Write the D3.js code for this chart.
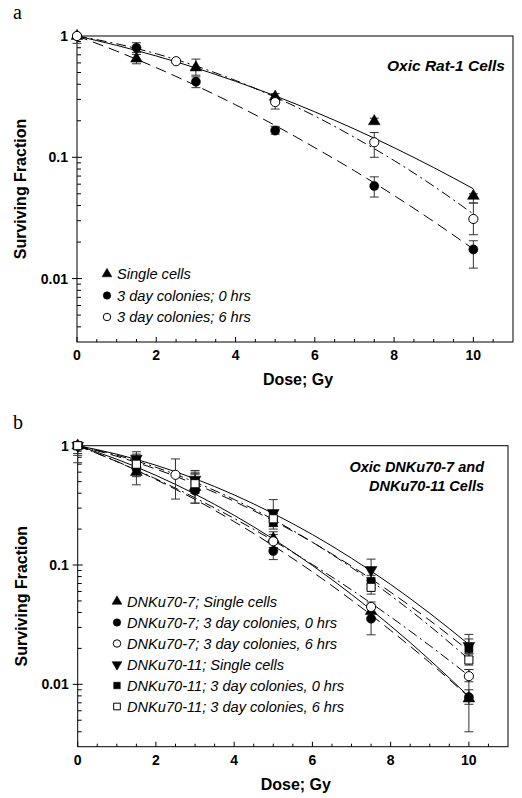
<!DOCTYPE html>
<html><head><meta charset="utf-8">
<script src="https://cdn.jsdelivr.net/npm/d3@7"></script>
<style>
body{margin:0;background:#fff;}
svg{display:block;font-family:"Liberation Sans",Arial,sans-serif;}
</style>
</head><body>
<svg id="c" width="522" height="798"></svg>
<script>
// ---------- shared ----------
const xTicksMajor = [0, 2, 4, 6, 8, 10];
const yTicksMajor = [1, 0.1, 0.01];
const yTickLabels = ["1", "0.1", "0.01"];
const fitDose = [0, 1, 2, 3, 4, 5, 6, 7, 8, 9, 10];

// ---------- panel a: Oxic Rat-1 ----------
const aSingleDose = [0, 1.5, 3, 5, 7.5, 10];
const aSingleSF   = [1, 0.65, 0.55, 0.315, 0.198, 0.048];
const aSingleLo   = [1, 0.59, 0.475, 0.29, 0.19, 0.042];
const aSingleHi   = [1, 0.705, 0.645, 0.335, 0.21, 0.05];

const aCol0Dose = [0, 1.5, 3, 5, 7.5, 10];
const aCol0SF   = [1, 0.80, 0.42, 0.166, 0.058, 0.0174];
const aCol0Lo   = [0.87, 0.73, 0.375, 0.155, 0.047, 0.0122];
const aCol0Hi   = [1, 0.88, 0.46, 0.18, 0.069, 0.0205];

const aCol6Dose = [0, 2.5, 5, 7.5, 10];
const aCol6SF   = [1, 0.62, 0.285, 0.133, 0.031];
const aCol6Lo   = [1, 0.60, 0.25, 0.10, 0.023];
const aCol6Hi   = [1, 0.64, 0.31, 0.16, 0.042];

const aSingleFit = [1, 0.837, 0.684, 0.545, 0.423, 0.321, 0.237, 0.171, 0.120, 0.0823, 0.055];
const aCol0Fit   = [1, 0.750, 0.548, 0.39, 0.271, 0.183, 0.120, 0.0774, 0.0484, 0.0295, 0.0175];
const aCol6Fit   = [1, 0.863, 0.714, 0.566, 0.430, 0.313, 0.219, 0.146, 0.094, 0.0578, 0.034];

const aLegend = ["Single cells", "3 day colonies; 0 hrs", "3 day colonies; 6 hrs"];

// ---------- panel b: Oxic DNKu70-7 and DNKu70-11 ----------
const b7SingleDose = [0, 1.5, 3, 5, 7.5, 10];
const b7SingleSF   = [1, 0.60, 0.45, 0.166, 0.041, 0.0076];
const b7SingleLo   = [0.72, 0.47, 0.33, 0.14, 0.036, 0.004];
const b7SingleHi   = [1, 0.74, 0.58, 0.19, 0.047, 0.0133];

const b7Col0Dose = [0, 1.5, 3, 5, 7.5, 10];
const b7Col0SF   = [1, 0.65, 0.42, 0.131, 0.0355, 0.0078];
const b7Col0Lo   = [0.83, 0.55, 0.33, 0.111, 0.026, 0.0068];
const b7Col0Hi   = [1, 0.78, 0.52, 0.15, 0.045, 0.009];

const b7Col6Dose = [0, 2.5, 5, 7.5, 10];
const b7Col6SF   = [1, 0.57, 0.158, 0.0445, 0.0117];
const b7Col6Lo   = [0.86, 0.357, 0.14, 0.040, 0.0105];
const b7Col6Hi   = [1, 0.775, 0.18, 0.049, 0.0133];

const b11SingleDose = [0, 1.5, 3, 5, 7.5, 10];
const b11SingleSF   = [1, 0.78, 0.52, 0.273, 0.091, 0.021];
const b11SingleLo   = [1, 0.65, 0.45, 0.21, 0.075, 0.018];
const b11SingleHi   = [1, 0.89, 0.62, 0.353, 0.112, 0.024];

const b11Col0Dose = [0, 1.5, 3, 5, 7.5, 10];
const b11Col0SF   = [1, 0.72, 0.50, 0.229, 0.073, 0.0199];
const b11Col0Lo   = [1, 0.62, 0.42, 0.20, 0.064, 0.017];
const b11Col0Hi   = [1, 0.85, 0.60, 0.27, 0.082, 0.0262];

const b11Col6Dose = [0, 1.5, 3, 5, 7.5, 10];
const b11Col6SF   = [1, 0.70, 0.48, 0.244, 0.065, 0.016];
const b11Col6Lo   = [1, 0.60, 0.40, 0.21, 0.057, 0.0145];
const b11Col6Hi   = [1, 0.80, 0.58, 0.28, 0.074, 0.018];

const b7SingleFit  = [1, 0.770, 0.564, 0.393, 0.261, 0.165, 0.0991, 0.0567, 0.0309, 0.0160, 0.0079];
const b7Col0Fit    = [1, 0.736, 0.520, 0.354, 0.231, 0.145, 0.0876, 0.0508, 0.0283, 0.0152, 0.00783];
const b7Col6Fit    = [1, 0.7375, 0.527, 0.3655, 0.2456, 0.160, 0.101, 0.0619, 0.0367, 0.0211, 0.0118];
const b11SingleFit = [1, 0.849, 0.686, 0.528, 0.387, 0.270, 0.180, 0.114, 0.0687, 0.0394, 0.0216];
const b11Col0Fit   = [1, 0.815, 0.637, 0.477, 0.342, 0.235, 0.155, 0.0978, 0.0592, 0.0343, 0.0191];
const b11Col6Fit   = [1, 0.832, 0.659, 0.495, 0.354, 0.2405, 0.1553, 0.0953, 0.0556, 0.0308, 0.0162];

const bLegend = ["DNKu70-7; Single cells", "DNKu70-7; 3 day colonies, 0 hrs", "DNKu70-7; 3 day colonies, 6 hrs",
                 "DNKu70-11; Single cells", "DNKu70-11; 3 day colonies, 0 hrs", "DNKu70-11; 3 day colonies, 6 hrs"];

// ---------- drawing ----------
const svg = d3.select("#c");
const DASH = {solid: null, dash: "11,6", dashdot: "10,4,2,4"};

function markerPath(kind, size) {
  if (kind === "tri" || kind === "triDown") return d3.symbol(d3.symbolTriangle, size)();
  if (kind === "square" || kind === "squareOpen") return d3.symbol(d3.symbolSquare, size)();
  return d3.symbol(d3.symbolCircle, size)();
}
function drawMarker(g, kind, x, y, size) {
  const open = kind === "circleOpen" || kind === "squareOpen";
  g.append("path").attr("d", markerPath(kind, size))
    .attr("transform", `translate(${x},${y})` + (kind === "triDown" ? " rotate(180)" : ""))
    .attr("fill", open ? "#fff" : "#000")
    .attr("stroke", "#000").attr("stroke-width", open ? 1 : 0.5);
}

function drawPanel(p) {
  const x = d3.scaleLinear().domain([0, 11]).range([p.left, p.right]);
  const y = d3.scaleLog().domain([0.003, 1]).range([p.bottom, p.top]);
  const g = svg.append("g");

  // frame
  g.append("rect").attr("x", p.left).attr("y", p.top)
    .attr("width", p.right - p.left).attr("height", p.bottom - p.top)
    .attr("fill", "none").attr("stroke", "#000").attr("stroke-width", 1);

  // x axis ticks
  const xMinor = d3.range(0.5, 11, 0.5).filter(v => !xTicksMajor.includes(v));
  xMinor.forEach(v => g.append("line").attr("x1", x(v)).attr("x2", x(v))
    .attr("y1", p.bottom).attr("y2", p.bottom - 3).attr("stroke", "#000"));
  xTicksMajor.forEach(v => {
    g.append("line").attr("x1", x(v)).attr("x2", x(v))
      .attr("y1", p.bottom).attr("y2", p.bottom - 5).attr("stroke", "#000");
    g.append("text").attr("x", x(v)).attr("y", p.bottom + 18).attr("text-anchor", "middle")
      .attr("font-size", 14).attr("font-weight", "bold").text(v);
  });

  // y axis ticks
  const yMinor = [];
  [0.001, 0.01, 0.1].forEach(dec => { for (let k = 2; k <= 9; k++) { const v = dec * k; if (v > 0.003 && v < 1) yMinor.push(v); } });
  yMinor.forEach(v => g.append("line").attr("x1", p.left).attr("x2", p.left + 4)
    .attr("y1", y(v)).attr("y2", y(v)).attr("stroke", "#000"));
  yTicksMajor.forEach((v, i) => {
    g.append("line").attr("x1", p.left - 5).attr("x2", p.left + 5)
      .attr("y1", y(v)).attr("y2", y(v)).attr("stroke", "#000");
    g.append("text").attr("x", p.left - 9).attr("y", y(v) + 5).attr("text-anchor", "end")
      .attr("font-size", 14).attr("font-weight", "bold").text(yTickLabels[i]);
  });

  // axis titles
  g.append("text").attr("transform", `translate(${p.left - 51},${(p.top + p.bottom) / 2}) rotate(-90)`)
    .attr("text-anchor", "middle").attr("font-size", 16).attr("font-weight", "bold").text("Surviving Fraction");
  g.append("text").attr("x", (p.left + p.right) / 2 + 3).attr("y", p.bottom + 43)
    .attr("text-anchor", "middle").attr("font-size", 16).attr("font-weight", "bold").text("Dose; Gy");

  // panel letter
  svg.append("text").attr("x", 13).attr("y", p.top - 17).attr("font-family", "'Liberation Serif','DejaVu Serif',serif")
    .attr("font-size", 20).text(p.letter);

  // title
  p.title.forEach((t, i) => g.append("text").attr("x", p.titleX).attr("y", p.titleY + i * 19)
    .attr("text-anchor", "end").attr("font-size", p.titleSize).attr("font-weight", "bold")
    .attr("font-style", "italic").text(t));

  // fitted curves
  const line = d3.line().x(d => x(d[0])).y(d => y(d[1])).curve(d3.curveMonotoneX);
  p.fits.forEach(f => {
    g.append("path").attr("d", line(fitDose.map((d, i) => [d, f.sf[i]])))
      .attr("fill", "none").attr("stroke", "#000").attr("stroke-width", 1)
      .attr("stroke-dasharray", DASH[f.style]);
  });

  // error bars
  p.series.forEach(s => {
    s.dose.forEach((d, i) => {
      const lo = s.lo[i], hi = s.hi[i];
      if (lo === hi) return;
      const cx = x(d);
      g.append("line").attr("x1", cx).attr("x2", cx).attr("y1", y(lo)).attr("y2", y(hi))
        .attr("stroke", "#333").attr("stroke-width", 1);
      [lo, hi].forEach(v => { if (v !== s.sf[i]) g.append("line").attr("x1", cx - 4.5).attr("x2", cx + 4.5)
        .attr("y1", y(v)).attr("y2", y(v)).attr("stroke", "#333").attr("stroke-width", 1); });
    });
  });
  // markers
  p.series.forEach(s => s.dose.forEach((d, i) => drawMarker(g, s.kind, x(d), y(s.sf[i]), s.kind.startsWith("tri") ? 60 : 66)));

  // legend
  p.legend.forEach((t, i) => {
    const ly = p.legY + i * p.legStep;
    drawMarker(g, p.series[i].kind, p.legX, ly, p.series[i].kind.startsWith("tri") ? 42 : 44);
    g.append("text").attr("x", p.legX + 10).attr("y", ly + 5).attr("font-size", 14.6)
      .attr("font-style", "italic").text(t);
  });
}

drawPanel({
  letter: "a", left: 77, right: 513, top: 36, bottom: 342,
  title: ["Oxic Rat-1 Cells"], titleX: 505, titleY: 71, titleSize: 15.5,
  fits: [{sf: aSingleFit, style: "solid"}, {sf: aCol0Fit, style: "dash"}, {sf: aCol6Fit, style: "dashdot"}],
  series: [
    {kind: "tri", dose: aSingleDose, sf: aSingleSF, lo: aSingleLo, hi: aSingleHi},
    {kind: "circle", dose: aCol0Dose, sf: aCol0SF, lo: aCol0Lo, hi: aCol0Hi},
    {kind: "circleOpen", dose: aCol6Dose, sf: aCol6SF, lo: aCol6Lo, hi: aCol6Hi}
  ],
  legend: aLegend, legX: 107, legY: 274, legStep: 21.5
});

drawPanel({
  letter: "b", left: 77.7, right: 508, top: 445.7, bottom: 746.7,
  title: ["Oxic DNKu70-7 and", "DNKu70-11 Cells"], titleX: 484, titleY: 472, titleSize: 14.5,
  fits: [{sf: b7SingleFit, style: "solid"}, {sf: b7Col0Fit, style: "dash"}, {sf: b7Col6Fit, style: "dashdot"},
         {sf: b11SingleFit, style: "solid"}, {sf: b11Col0Fit, style: "dash"}, {sf: b11Col6Fit, style: "dashdot"}],
  series: [
    {kind: "tri", dose: b7SingleDose, sf: b7SingleSF, lo: b7SingleLo, hi: b7SingleHi},
    {kind: "circle", dose: b7Col0Dose, sf: b7Col0SF, lo: b7Col0Lo, hi: b7Col0Hi},
    {kind: "circleOpen", dose: b7Col6Dose, sf: b7Col6SF, lo: b7Col6Lo, hi: b7Col6Hi},
    {kind: "triDown", dose: b11SingleDose, sf: b11SingleSF, lo: b11SingleLo, hi: b11SingleHi},
    {kind: "square", dose: b11Col0Dose, sf: b11Col0SF, lo: b11Col0Lo, hi: b11Col0Hi},
    {kind: "squareOpen", dose: b11Col6Dose, sf: b11Col6SF, lo: b11Col6Lo, hi: b11Col6Hi}
  ],
  legend: bLegend, legX: 117, legY: 601.5, legStep: 21
});
</script>
</body></html>
